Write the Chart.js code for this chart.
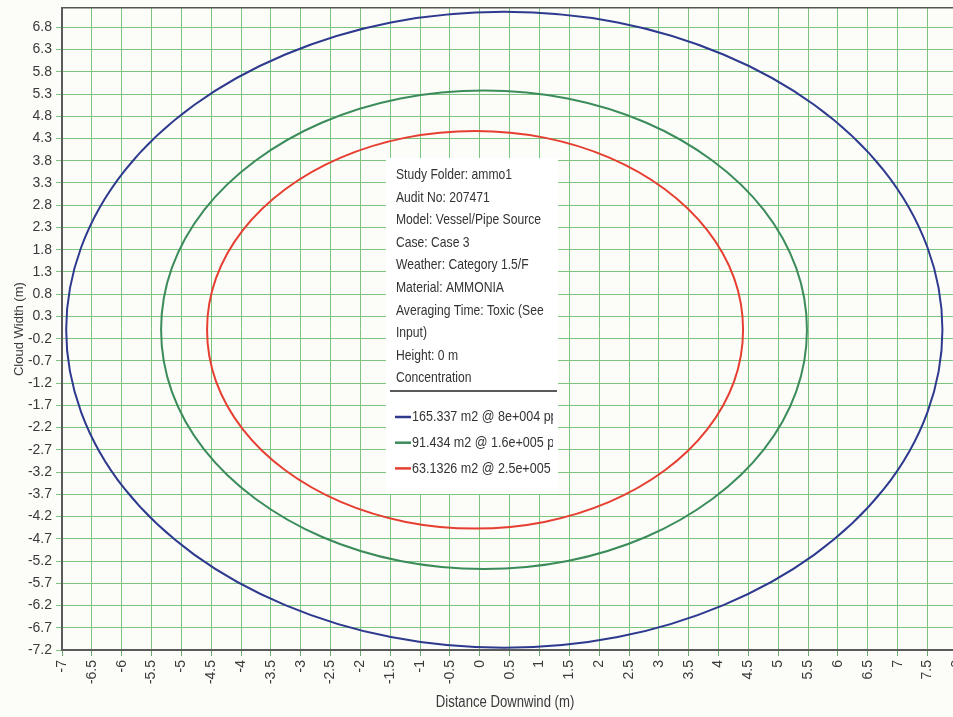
<!DOCTYPE html>
<html>
<head>
<meta charset="utf-8">
<title>Cloud footprint</title>
<script src="https://cdn.jsdelivr.net/npm/chart.js@4.4.0/dist/chart.umd.min.js"></script>
<style>
  html, body { margin: 0; padding: 0; background: #fcfcf9; overflow: hidden; }
  #wrap { position: relative; width: 953px; height: 717px; overflow: hidden; }
  #wrap canvas { position: absolute; left: 0; top: 0; }
</style>
</head>
<body>
<div id="wrap"><canvas id="c" width="1008" height="717" style="width:1008px;height:717px"></canvas></div>
<script>
// ---- axis ticks ----
const xTicks = [-7, -6.5, -6, -5.5, -5, -4.5, -4, -3.5, -3, -2.5, -2, -1.5, -1, -0.5, 0, 0.5,
                1, 1.5, 2, 2.5, 3, 3.5, 4, 4.5, 5, 5.5, 6, 6.5, 7, 7.5, 8, 8.5];
const yTicks = [-7.2, -6.7, -6.2, -5.7, -5.2, -4.7, -4.2, -3.7, -3.2, -2.7, -2.2, -1.7, -1.2, -0.7, -0.2,
                0.3, 0.8, 1.3, 1.8, 2.3, 2.8, 3.3, 3.8, 4.3, 4.8, 5.3, 5.8, 6.3, 6.8];

// ---- contour outlines: [downwind distance (m), cloud width (m)], closed loops ----
const contour80k = [
  [7.75, 0], [7.50, 1.85], [6.77, 3.58], [5.60, 5.06], [4.08, 6.19], [2.31, 6.91], [0.41, 7.15],
  [-1.49, 6.91], [-3.26, 6.19], [-4.78, 5.06], [-5.95, 3.58], [-6.68, 1.85], [-6.93, 0],
  [-6.68, -1.85], [-5.95, -3.58], [-4.78, -5.06], [-3.26, -6.19], [-1.49, -6.91], [0.41, -7.15],
  [2.31, -6.91], [4.08, -6.19], [5.60, -5.06], [6.77, -3.58], [7.50, -1.85], [7.75, 0]
];
const contour160k = [
  [5.48, 0], [5.30, 1.39], [4.76, 2.69], [3.90, 3.80], [2.78, 4.66], [1.47, 5.20], [0.07, 5.38],
  [-1.33, 5.20], [-2.64, 4.66], [-3.76, 3.80], [-4.62, 2.69], [-5.16, 1.39], [-5.34, 0],
  [-5.16, -1.39], [-4.62, -2.69], [-3.76, -3.80], [-2.64, -4.66], [-1.33, -5.20], [0.07, -5.38],
  [1.47, -5.20], [2.78, -4.66], [3.90, -3.80], [4.76, -2.69], [5.30, -1.39], [5.48, 0]
];
const contour250k = [
  [4.41, 0], [4.26, 1.16], [3.81, 2.24], [3.10, 3.16], [2.17, 3.87], [1.08, 4.32], [-0.08, 4.47],
  [-1.24, 4.32], [-2.33, 3.87], [-3.26, 3.16], [-3.97, 2.24], [-4.42, 1.16], [-4.57, 0],
  [-4.42, -1.16], [-3.97, -2.24], [-3.26, -3.16], [-2.33, -3.87], [-1.24, -4.32], [-0.08, -4.47],
  [1.08, -4.32], [2.17, -3.87], [3.10, -3.16], [3.81, -2.24], [4.26, -1.16], [4.41, 0]
];

const seriesLabels = [
  '165.337 m2 @ 8e+004 ppm',
  '91.434 m2 @ 1.6e+005 ppm',
  '63.1326 m2 @ 2.5e+005 ppm'
];
const seriesColors = ['#2e3a8e', '#3b8c5a', '#e63f32'];

const infoLines = [
  'Study Folder: ammo1',
  'Audit No: 207471',
  'Model: Vessel/Pipe Source',
  'Case: Case 3',
  'Weather: Category 1.5/F',
  'Material: AMMONIA',
  'Averaging Time: Toxic (See',
  'Input)',
  'Height: 0 m',
  'Concentration'
];

const xTitle = 'Distance Downwind (m)';
const yTitle = 'Cloud Width (m)';

// ---- fonts ----
function hasFont(name) {
  const c = document.createElement('canvas').getContext('2d');
  const s = 'Study Folder: ammo1 mmmwwwiii';
  c.font = '40px monospace';
  const a = c.measureText(s).width;
  c.font = '40px "' + name + '", monospace';
  return c.measureText(s).width !== a;
}
const NARROW = hasFont('Liberation Sans Narrow');
const narrowFamily = NARROW ? '"Liberation Sans Narrow", "Liberation Sans", Arial, sans-serif'
                            : '"Liberation Sans", Arial, sans-serif';

function narrowText(ctx, text, x, y, size) {
  if (NARROW) {
    ctx.font = size + 'px "Liberation Sans Narrow"';
    ctx.fillText(text, x, y);
  } else {
    ctx.save();
    ctx.translate(x, y);
    ctx.scale(0.82, 1);
    ctx.font = size + 'px "Liberation Sans", Arial, sans-serif';
    ctx.fillText(text, 0, 0);
    ctx.restore();
  }
}

// Carry one point past each end of a closed loop so the seam is smooth;
// the two carried segments are hidden below.
function loop(points) {
  const n = points.length;
  const pts = [points[n - 2]].concat(points, [points[1]]);
  return pts.map(p => ({ x: p[0], y: p[1] }));
}

// ---- study info panel with the contour key, plus the downwind axis title ----
const infoPanel = {
  id: 'infoPanel',
  afterDraw(chart) {
    const ctx = chart.ctx;
    const bx = 386, by = 158, bw = 172, bh = 336;
    ctx.save();

    ctx.fillStyle = '#3a3a3a';
    ctx.textAlign = 'center';
    ctx.textBaseline = 'middle';
    narrowText(ctx, xTitle, 505, 703, 16);

    ctx.fillStyle = '#ffffff';
    ctx.fillRect(bx, by, bw, bh);

    ctx.fillStyle = '#333333';
    ctx.textBaseline = 'middle';
    ctx.textAlign = 'left';
    infoLines.forEach((t, i) => narrowText(ctx, t, bx + 10, by + 17 + i * 22.6, 14.8));

    ctx.strokeStyle = '#222';
    ctx.lineWidth = 1.5;
    ctx.beginPath();
    ctx.moveTo(bx + 4, 391);
    ctx.lineTo(bx + bw - 1, 391);
    ctx.stroke();

    ctx.beginPath();
    ctx.rect(bx, by, bw - 5, bh);
    ctx.clip();
    chart.data.datasets.forEach((ds, i) => {
      const cy = 417 + i * 25.7;
      ctx.strokeStyle = ds.borderColor;
      ctx.lineWidth = 2.5;
      ctx.beginPath();
      ctx.moveTo(bx + 9, cy);
      ctx.lineTo(bx + 25, cy);
      ctx.stroke();
      ctx.fillStyle = '#333333';
      narrowText(ctx, ds.label, bx + 26, cy, 15.3);
    });
    ctx.restore();
  }
};

const gridGreen = '#7cc47f';
const tickFont = { family: '"Liberation Sans", Arial, sans-serif', size: 14 };

new Chart(document.getElementById('c'), {
  type: 'line',
  data: {
    datasets: [contour80k, contour160k, contour250k].map((pts, i) => {
      const data = loop(pts);
      const last = data.length - 1;
      return {
        label: seriesLabels[i],
        data: data,
        borderColor: seriesColors[i],
        borderWidth: 2,
        pointRadius: 0,
        tension: 0.34,
        fill: false,
        segment: {
          borderColor: c => (c.p0DataIndex === 0 || c.p1DataIndex === last) ? 'rgba(0,0,0,0)' : undefined
        }
      };
    })
  },
  options: {
    responsive: false,
    animation: false,
    events: [],
    layout: { autoPadding: false, padding: 0 },
    plugins: { legend: { display: false }, tooltip: { enabled: false } },
    scales: {
      x: {
        type: 'linear',
        position: 'bottom',
        min: -7,
        max: 8.5,
        afterBuildTicks(s) { s.ticks = xTicks.map(v => ({ value: v })); },
        afterFit(s) { s.height = 67; },
        ticks: {
          autoSkip: false,
          minRotation: 90,
          maxRotation: 90,
          padding: 4,
          color: '#3a3a3a',
          font: tickFont,
          callback: v => String(v)
        },
        grid: { color: gridGreen, lineWidth: 1, tickLength: 6, tickColor: '#6aaa70' },
        border: { display: true, color: '#5a5a5a', width: 2 },
        title: { display: false, text: xTitle }
      },
      x2: {
        type: 'linear',
        position: 'top',
        min: 0,
        max: 1,
        afterFit(s) { s.height = 8; },
        ticks: { display: false },
        grid: { display: false },
        border: { display: true, color: '#555', width: 1.5 }
      },
      y: {
        type: 'linear',
        min: -7.2,
        max: 7.23,
        afterBuildTicks(s) { s.ticks = yTicks.map(v => ({ value: v })); },
        afterFit(s) { s.width = 62; },
        ticks: {
          autoSkip: false,
          padding: 4,
          color: '#3a3a3a',
          font: { family: '"Liberation Sans", Arial, sans-serif', size: 14, lineHeight: 0.6 },
          callback: v => v.toFixed(1)
        },
        grid: { color: gridGreen, lineWidth: 1, tickLength: 6, tickColor: gridGreen },
        border: { display: true, color: '#5a5a5a', width: 2 },
        title: {
          display: true,
          text: yTitle,
          color: '#3a3a3a',
          font: { family: narrowFamily, size: NARROW ? 14.5 : 13 },
          padding: { top: 12, bottom: 0 }
        }
      }
    }
  },
  plugins: [infoPanel]
});
</script>
</body>
</html>
